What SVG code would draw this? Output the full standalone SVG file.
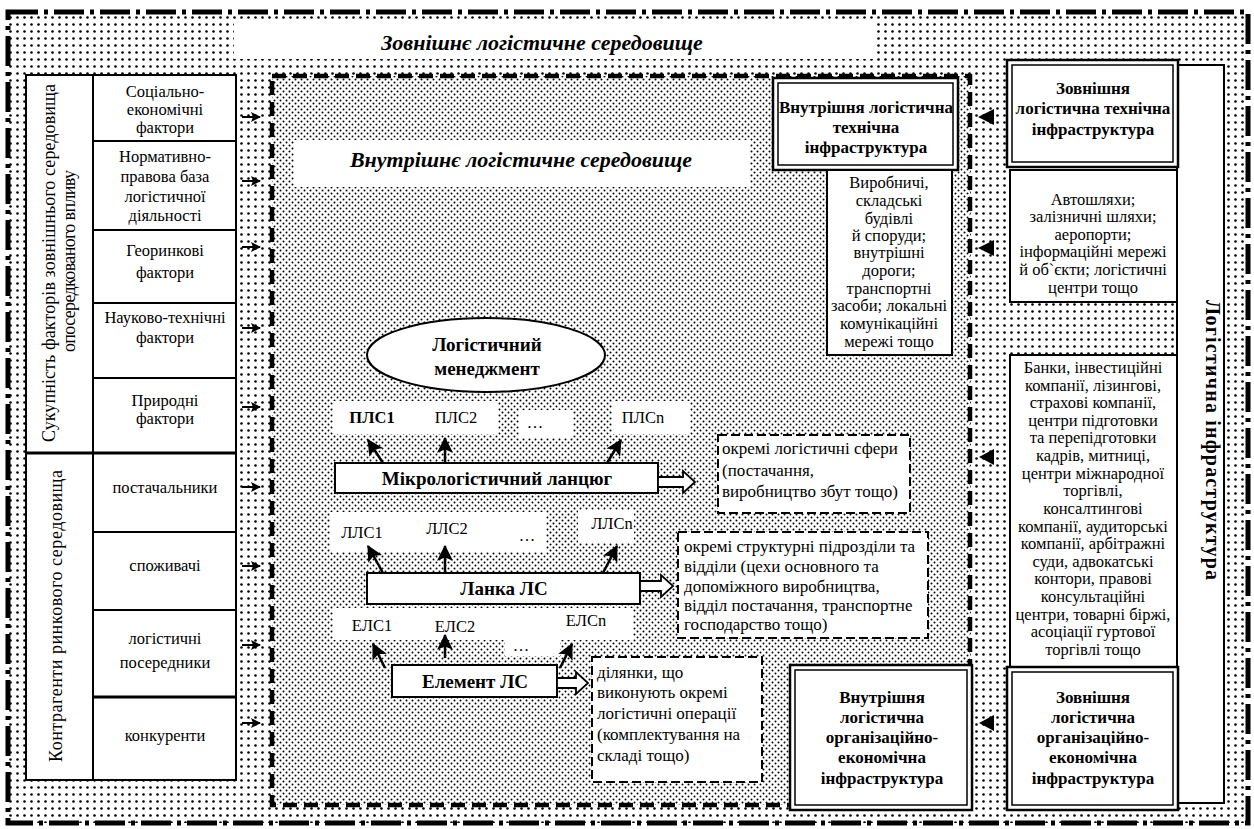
<svg xmlns="http://www.w3.org/2000/svg" width="1254" height="829" viewBox="0 0 1254 829" font-family="'Liberation Serif','Times New Roman',serif">
<defs>
<pattern id="dotsOuter" width="7" height="7" patternUnits="userSpaceOnUse"><rect width="7" height="7" fill="#fff"/><circle cx="3.5" cy="3.5" r="1.3" fill="#000"/></pattern>
<pattern id="dotsInner" width="6" height="6" patternUnits="userSpaceOnUse"><rect width="6" height="6" fill="#fff"/><circle cx="1.5" cy="1.5" r="1" fill="#000"/><circle cx="4.5" cy="4.5" r="1" fill="#000"/></pattern>
<marker id="hd" markerUnits="userSpaceOnUse" markerWidth="16" markerHeight="16" refX="13" refY="7" orient="auto" viewBox="0 0 14 14"><path d="M0,0 L14,7 L0,14 L3,7 Z" fill="#000"/></marker>
<marker id="hs" markerUnits="userSpaceOnUse" markerWidth="10" markerHeight="10" refX="9" refY="5" orient="auto" viewBox="0 0 10 10"><path d="M0,0 L10,5 L0,10 L2,5 Z" fill="#000"/></marker>
</defs>
<style>
text{font-family:'Liberation Serif','Times New Roman',serif;fill:#000}
.t{font-size:16.5px;text-anchor:middle}
.tl{font-size:17px}
.rb{font-size:17px;font-weight:bold;text-anchor:middle}
.mb{font-size:19px;font-weight:bold;text-anchor:middle}
.b{font-weight:bold}
.cell{fill:#fff;stroke:#000;stroke-width:2}
.wb{fill:#fff;stroke:#000;stroke-width:2}
.wp{fill:#fff;stroke:none}
.dash{fill:#fff;stroke:#000;stroke-width:2;stroke-dasharray:9 4}
.dbo{fill:#fff;stroke:#000;stroke-width:2.5}
.dbi{fill:none;stroke:#000;stroke-width:1.5}
.arr{stroke:#000;stroke-width:2.5;fill:none;marker-end:url(#hd)}
.sarr{stroke:#000;stroke-width:2;fill:none;marker-end:url(#hs)}
.tri{fill:#000}
.hol{fill:#fff;stroke:#000;stroke-width:1.8}
.ti{font-size:22px;font-style:italic;font-weight:bold;text-anchor:middle}
.vt{font-size:18px;text-anchor:middle}
</style>

<g id="outer-frame">
<rect x="8" y="12" width="1240" height="811" fill="url(#dotsOuter)" stroke="#000" stroke-width="5" stroke-dasharray="30 6 4 6"/>
</g>

<g id="outer-title">
<rect x="234" y="21" width="643" height="38" class="wp"/>
<text x="542" y="50" class="ti">Зовнішнє логістичне середовище</text>
</g>

<g id="inner-frame">
<rect x="272" y="76" width="698" height="729" fill="url(#dotsInner)" stroke="#000" stroke-width="4.5" stroke-dasharray="14 7"/>
</g>

<g id="inner-title">
<rect x="294" y="140" width="456" height="47" class="wp"/>
<text x="521" y="167" class="ti">Внутрішнє логістичне середовище</text>
</g>

<g id="left-table">
<rect x="26" y="75" width="67" height="378" class="cell"/>
<rect x="26" y="453" width="67" height="327" class="cell"/>
<text class="vt" transform="translate(55,263) rotate(-90)" textLength="358" lengthAdjust="spacing">Сукупність факторів зовнішнього середовища</text>
<text class="vt" transform="translate(75,261) rotate(-90)" textLength="182" lengthAdjust="spacing">опосередкованого  впливу</text>
<text class="vt" transform="translate(62,616) rotate(-90)" textLength="292" lengthAdjust="spacing">Контрагенти ринкового середовища</text>
</g>

<g id="cell-social"><rect x="93" y="75" width="143" height="66" class="cell"/>
<text class="t" x="165" y="97">Соціально-</text><text class="t" x="165" y="115">економічні</text><text class="t" x="165" y="133">фактори</text></g>
<g id="cell-legal"><rect x="93" y="141" width="143" height="89" class="cell"/>
<text class="t" x="165" y="162">Нормативно-</text><text class="t" x="165" y="182">правова база</text><text class="t" x="165" y="202">логістичної</text><text class="t" x="165" y="221">діяльності</text></g>
<g id="cell-geo"><rect x="93" y="230" width="143" height="73" class="cell"/>
<text class="t" x="165" y="256">Георинкові</text><text class="t" x="165" y="278">фактори</text></g>
<g id="cell-sci"><rect x="93" y="303" width="143" height="75" class="cell"/>
<text class="t" x="165" y="323">Науково-технічні</text><text class="t" x="165" y="343">фактори</text></g>
<g id="cell-nat"><rect x="93" y="378" width="143" height="75" class="cell"/>
<text class="t" x="165" y="406">Природні</text><text class="t" x="165" y="424">фактори</text></g>
<g id="cell-supp"><rect x="93" y="453" width="143" height="79" class="cell"/>
<text class="t" x="165" y="493">постачальники</text></g>
<g id="cell-cons"><rect x="93" y="532" width="143" height="78" class="cell"/>
<text class="t" x="165" y="571">споживачі</text></g>
<g id="cell-inter"><rect x="93" y="610" width="143" height="87" class="cell"/>
<text class="t" x="165" y="644">логістичні</text><text class="t" x="165" y="668">посередники</text></g>
<g id="cell-comp"><rect x="93" y="697" width="143" height="83" class="cell"/>
<text class="t" x="165" y="741">конкуренти</text></g>
<line x1="26" y1="453" x2="236" y2="453" stroke="#000" stroke-width="3"/>
<line x1="93" y1="697" x2="236" y2="697" stroke="#000" stroke-width="3"/>

<g id="mgmt">
<ellipse cx="486" cy="355" rx="119" ry="37" class="wb"/>
<text class="mb" x="487" y="351">Логістичний</text>
<text class="mb" x="487" y="375">менеджмент</text>
</g>

<g id="pls-labels">
<rect x="333" y="401" width="165" height="33" class="wp"/>
<rect x="519" y="410" width="54" height="28" class="wp"/>
<rect x="612" y="401" width="78" height="33" class="wp"/>
<text class="t b" x="372" y="423">ПЛС1</text>
<text class="t" x="456" y="423">ПЛС2</text>
<text class="t" x="535" y="428">…</text>
<text class="t" x="643" y="423">ПЛСn</text>
</g>

<g id="micro-chain">
<rect x="335" y="463" width="323" height="30" class="wb"/>
<text class="mb" x="497" y="485">Мікрологістичний ланцюг</text>
</g>

<g id="note-spheres">
<rect x="718" y="435" width="192" height="78" class="dash"/>
<text class="tl" x="722" y="454">окремі логістичні сфери</text>
<text class="tl" x="722" y="476">(постачання,</text>
<text class="tl" x="722" y="497">виробництво збут тощо)</text>
</g>

<g id="lls-labels">
<rect x="330" y="512" width="216" height="40" class="wp"/>
<rect x="578" y="510" width="56" height="33" class="wp"/>
<text class="t" x="362" y="538">ЛЛС1</text>
<text class="t" x="447" y="534">ЛЛС2</text>
<text class="t" x="527" y="541">…</text>
<text class="t" x="612" y="529">ЛЛСn</text>
</g>

<g id="link-ls">
<rect x="367" y="573" width="273" height="31" class="wb"/>
<text class="mb" x="504" y="595">Ланка ЛС</text>
</g>

<g id="note-units">
<rect x="678" y="532" width="250" height="106" class="dash"/>
<text class="tl" x="684" y="552">окремі структурні підрозділи та</text>
<text class="tl" x="684" y="572">відділи (цехи основного та</text>
<text class="tl" x="684" y="592">допоміжного виробництва,</text>
<text class="tl" x="684" y="611">відділ постачання, транспортне</text>
<text class="tl" x="684" y="630">господарство тощо)</text>
</g>

<g id="els-labels">
<rect x="333" y="608" width="300" height="32" class="wp"/>
<rect x="505" y="630" width="55" height="26" class="wp"/>
<text class="t" x="372" y="631">ЕЛС1</text>
<text class="t" x="455" y="632">ЕЛС2</text>
<text class="t" x="521" y="651">…</text>
<text class="t" x="586" y="626">ЕЛСn</text>
</g>

<g id="element-ls">
<rect x="392" y="665" width="165" height="32" class="wb"/>
<text class="mb" x="475" y="688">Елемент ЛС</text>
</g>

<g id="note-sites">
<rect x="592" y="657" width="170" height="125" class="dash"/>
<text class="tl" x="597" y="678">ділянки, що</text>
<text class="tl" x="597" y="698">виконують окремі</text>
<text class="tl" x="597" y="719">логістичні операції</text>
<text class="tl" x="597" y="740">(комплектування на</text>
<text class="tl" x="597" y="761">складі тощо)</text>
</g>

<g id="log-infra-column">
<rect x="1177" y="65" width="47" height="738" class="wb"/>
<text transform="translate(1206,440) rotate(90)" style="font-size:20px;font-weight:bold;text-anchor:middle" textLength="280" lengthAdjust="spacing">Логістична інфраструктура</text>
</g>

<g id="int-tech">
<rect x="773" y="78" width="185" height="92" class="dbo"/>
<rect x="778" y="83" width="175" height="82" class="dbi"/>
<text class="rb" x="866" y="113">Внутрішня логістична</text>
<text class="rb" x="866" y="133">технічна</text>
<text class="rb" x="866" y="153">інфраструктура</text>
</g>

<g id="int-tech-list">
<rect x="827" y="170" width="125" height="185" class="wb"/>
<text class="t" x="889" y="188">Виробничі,</text>
<text class="t" x="889" y="206">складські</text>
<text class="t" x="889" y="224">будівлі</text>
<text class="t" x="889" y="241">й споруди;</text>
<text class="t" x="889" y="258">внутрішні</text>
<text class="t" x="889" y="276">дороги;</text>
<text class="t" x="889" y="294">транспортні</text>
<text class="t" x="889" y="311">засоби; локальні</text>
<text class="t" x="889" y="329">комунікаційні</text>
<text class="t" x="889" y="347">мережі тощо</text>
</g>

<g id="ext-tech">
<rect x="1007" y="60" width="171" height="107" class="dbo"/>
<rect x="1012" y="65" width="161" height="97" class="dbi"/>
<text class="rb" x="1093" y="94">Зовнішня</text>
<text class="rb" x="1093" y="114">логістична технічна</text>
<text class="rb" x="1093" y="135">інфраструктура</text>
</g>

<g id="ext-tech-list">
<rect x="1010" y="170" width="167" height="132" class="wb"/>
<text class="t" x="1093" y="205">Автошляхи;</text>
<text class="t" x="1093" y="222">залізничні шляхи;</text>
<text class="t" x="1093" y="240">аеропорти;</text>
<text class="t" x="1093" y="257">інформаційні мережі</text>
<text class="t" x="1093" y="275">й об`єкти; логістичні</text>
<text class="t" x="1093" y="293">центри тощо</text>
</g>

<g id="ext-org-list">
<rect x="1010" y="355" width="167" height="312" class="wb"/>
<text class="t" x="1093" y="373">Банки, інвестиційні</text>
<text class="t" x="1093" y="391">компанії, лізингові,</text>
<text class="t" x="1093" y="408">страхові компанії,</text>
<text class="t" x="1093" y="426">центри підготовки</text>
<text class="t" x="1093" y="443">та перепідготовки</text>
<text class="t" x="1093" y="461">кадрів, митниці,</text>
<text class="t" x="1093" y="479">центри міжнародної</text>
<text class="t" x="1093" y="496">торгівлі,</text>
<text class="t" x="1093" y="514">консалтингові</text>
<text class="t" x="1093" y="532">компанії, аудиторські</text>
<text class="t" x="1093" y="549">компанії, арбітражні</text>
<text class="t" x="1093" y="567">суди, адвокатські</text>
<text class="t" x="1093" y="584">контори, правові</text>
<text class="t" x="1093" y="602">консультаційні</text>
<text class="t" x="1093" y="620">центри, товарні біржі,</text>
<text class="t" x="1093" y="637">асоціації гуртової</text>
<text class="t" x="1093" y="655">торгівлі тощо</text>
</g>

<g id="int-org">
<rect x="790" y="665" width="182" height="145" class="dbo"/>
<rect x="795" y="670" width="172" height="135" class="dbi"/>
<text class="rb" x="882" y="703">Внутрішня</text>
<text class="rb" x="882" y="723">логістична</text>
<text class="rb" x="882" y="743">організаційно-</text>
<text class="rb" x="882" y="763">економічна</text>
<text class="rb" x="882" y="784">інфраструктура</text>
</g>

<g id="ext-org">
<rect x="1007" y="667" width="171" height="143" class="dbo"/>
<rect x="1012" y="672" width="161" height="133" class="dbi"/>
<text class="rb" x="1093" y="703">Зовнішня</text>
<text class="rb" x="1093" y="723">логістична</text>
<text class="rb" x="1093" y="743">організаційно-</text>
<text class="rb" x="1093" y="763">економічна</text>
<text class="rb" x="1093" y="784">інфраструктура</text>
</g>

<g id="connectors">
<line class="sarr" x1="242" y1="117" x2="260" y2="117"/>
<line class="sarr" x1="242" y1="181" x2="260" y2="181"/>
<line class="sarr" x1="242" y1="247" x2="260" y2="247"/>
<line class="sarr" x1="242" y1="328" x2="260" y2="328"/>
<line class="sarr" x1="242" y1="407" x2="260" y2="407"/>
<line class="sarr" x1="242" y1="487" x2="260" y2="487"/>
<line class="sarr" x1="242" y1="566" x2="260" y2="566"/>
<line class="sarr" x1="242" y1="645" x2="260" y2="645"/>
<line class="sarr" x1="242" y1="723" x2="260" y2="723"/>
<path class="tri" d="M978,117 L994,109 L994,125 Z"/>
<path class="tri" d="M978,248 L994,240 L994,256 Z"/>
<path class="tri" d="M979,457 L994,449 L994,465 Z"/>
<path class="tri" d="M979,723 L994,715 L994,731 Z"/>
<line class="arr" x1="383" y1="463" x2="368" y2="440"/>
<line class="arr" x1="445" y1="463" x2="445" y2="438"/>
<line class="arr" x1="607" y1="463" x2="621" y2="440"/>
<line class="arr" x1="383" y1="573" x2="368" y2="546"/>
<line class="arr" x1="445" y1="573" x2="445" y2="546"/>
<line class="arr" x1="603" y1="573" x2="617" y2="546"/>
<line class="arr" x1="385" y1="668" x2="373" y2="644"/>
<line class="arr" x1="445" y1="658" x2="445" y2="635"/>
<line class="arr" x1="560" y1="668" x2="572" y2="644"/>
<path class="hol" d="M658,477 L683,477 L683,471 L695,482 L683,493 L683,487 L658,487 Z"/>
<path class="hol" d="M640,581 L661,581 L661,575 L673,586 L661,597 L661,591 L640,591 Z"/>
<path class="hol" d="M557,678 L576,678 L576,672 L588,683 L576,694 L576,688 L557,688 Z"/>
</g>
</svg>
